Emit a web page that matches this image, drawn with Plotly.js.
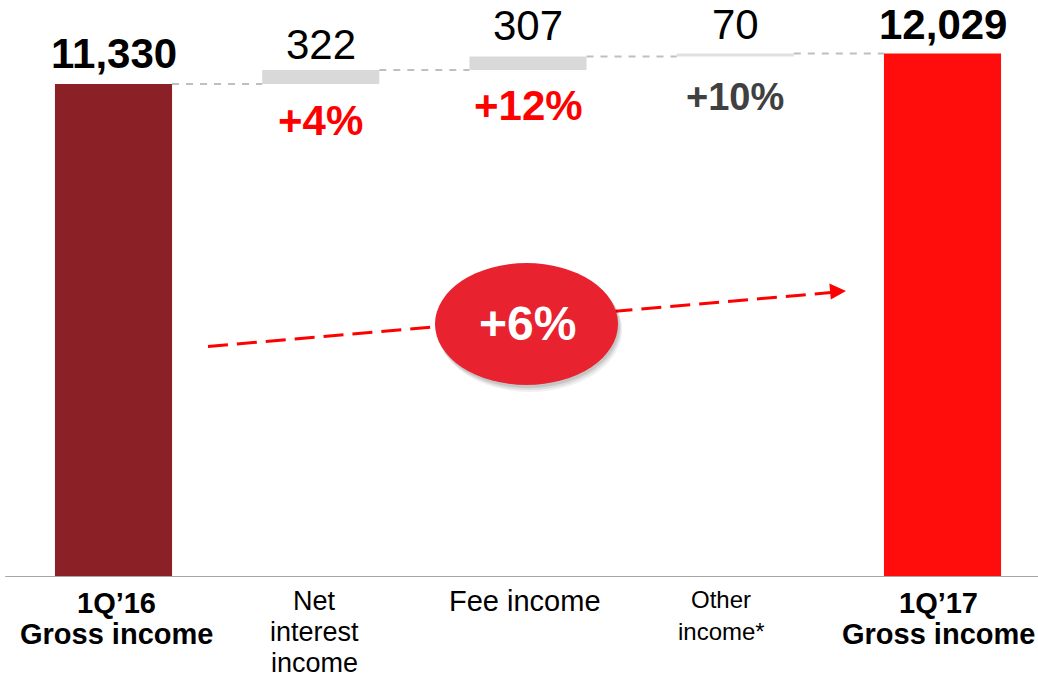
<!DOCTYPE html>
<html>
<head>
<meta charset="utf-8">
<script src="https://cdn.plot.ly/plotly-3.0.1.min.js"></script>
<style>
  html, body { margin: 0; padding: 0; background: #ffffff; }
  #chart { width: 1038px; height: 679px; }
</style>
</head>
<body>
<div id="chart"></div>
<script>
// ---- data ----
const categories = ["1Q\u201916<br>Gross income", "Net<br>interest<br>income", "Fee income", "Other<br>income*", "1Q\u201917<br>Gross income"];
const measures = ["absolute", "relative", "relative", "relative", "total"];
const values = [11330, 322, 307, 70, 12029];
const pctLabels = ["", "+4%", "+12%", "+10%", ""];
const totalGrowth = "+6%";

// ---- styles (kept apart from data) ----
const FONT = "Liberation Sans, Arial, sans-serif";
const barColors = ["#8B2127", "#D9D9D9", "#D9D9D9", "#E0E0E0", "#FF0D0D"];
const valShift = [5, 0, 6, 4, 3];
const pctColors = ["", "#FF0000", "#FF0000", "#404040", ""];
const pctSizes = [0, 42, 42, 38, 0];
const pctShift = [0, -11, -10, -17, 0];
const catBold = [true, false, false, false, true];
const catSize = [29, 27, 29, 24, 29];
const catFirst = [603, 601, 601, 599, 603];   // px centre of first label line
const catPitch = [31, 31, 32, 32, 31];
const catXShift = [3, -6, -3, -14, -4];
const BAR_W = 0.565;

// ---- derive bases from data ----
const bases = [], tops = [];
let running = 0;
values.forEach((v, i) => {
  if (measures[i] === "relative") {
    bases.push(running); running += v; tops.push(running);
  } else {
    bases.push(0); tops.push(v); running = v;
  }
});
const xs = categories.map((_, i) => i);

const trace = {
  type: "bar",
  x: xs,
  y: values,
  base: bases,
  width: BAR_W,
  marker: { color: barColors, line: { width: 0 } },
  hoverinfo: "skip"
};

// connectors
const shapes = [];
for (let i = 0; i < values.length - 1; i++) {
  shapes.push({
    type: "line", xref: "x", yref: "y",
    x0: i + BAR_W / 2, x1: i + 1 - BAR_W / 2,
    y0: tops[i], y1: tops[i],
    line: { color: "#BFBFBF", width: 2, dash: "7px,7px" }
  });
}
// baseline axis
shapes.push({
  type: "line", xref: "paper", yref: "y",
  x0: 0.005, x1: 1, y0: 0, y1: 0,
  line: { color: "#A6A6A6", width: 2 }
});

// pixel -> paper helpers for decorative overlay (plot area 1038 x 577)
const PW = 1038, PH = 577;
const px = v => v / PW;
const py = v => (PH - v) / PH;

// dashed growth arrow
shapes.push({
  type: "line", xref: "paper", yref: "paper",
  x0: px(208), y0: py(346.5), x1: px(831), y1: py(292.5),
  line: { color: "#FF0000", width: 3, dash: "20px,9px" }
});
shapes.push({
  type: "path", xref: "paper", yref: "paper",
  path: `M ${px(846)} ${py(291)} L ${px(829.4)} ${py(283.6)} L ${px(830.8)} ${py(299.6)} Z`,
  fillcolor: "#FF0000", line: { width: 0 }
});
// ellipse shadow layers
[[7, 0.06], [5, 0.08], [3, 0.10]].forEach(([o, a]) => {
  shapes.push({
    type: "circle", xref: "paper", yref: "paper",
    x0: px(435 + o * 0.4), x1: px(618 + o * 0.6), y0: py(385 + o), y1: py(263 + o * 0.6),
    fillcolor: `rgba(0,0,0,${a})`, line: { width: 0 }
  });
});
shapes.push({
  type: "circle", xref: "paper", yref: "paper",
  x0: px(435), x1: px(618), y0: py(385), y1: py(263),
  fillcolor: "#E8232F", line: { width: 0 }
});

// annotations
const annotations = [];
values.forEach((v, i) => {
  const isTotal = measures[i] !== "relative";
  const txt = v.toLocaleString("en-US");
  annotations.push({
    x: i, y: tops[i], xref: "x", yref: "y",
    text: isTotal ? `<b>${txt}</b>` : txt,
    showarrow: false, yanchor: "bottom", xanchor: "center",
    yshift: valShift[i],
    font: { family: FONT, size: 42, color: "#000000" }
  });
  if (pctLabels[i]) {
    annotations.push({
      x: i, y: bases[i], xref: "x", yref: "y",
      text: `<b>${pctLabels[i]}</b>`,
      showarrow: false, yanchor: "top", xanchor: "center",
      yshift: pctShift[i],
      font: { family: FONT, size: pctSizes[i], color: pctColors[i] }
    });
  }
});
annotations.push({
  x: px(527), y: py(324), xref: "paper", yref: "paper",
  text: `<b>${totalGrowth}</b>`, showarrow: false,
  xanchor: "center", yanchor: "middle",
  font: { family: FONT, size: 48, color: "#FFFFFF" }
});

// category labels, one annotation per line for tight line spacing
categories.forEach((c, i) => {
  c.split("<br>").forEach((line, k) => {
    annotations.push({
      x: i, y: 0, xref: "x", yref: "y",
      text: catBold[i] ? `<b>${line}</b>` : line,
      showarrow: false, xanchor: "center", yanchor: "middle",
      xshift: catXShift[i],
      yshift: PH - (catFirst[i] + k * catPitch[i]),
      font: { family: FONT, size: catSize[i], color: "#000000" }
    });
  });
});

const yTop = PH / 0.04352;

const layout = {
  width: 1038, height: 679,
  margin: { l: 0, r: 0, t: 0, b: 102, pad: 0 },
  paper_bgcolor: "#FFFFFF", plot_bgcolor: "#FFFFFF",
  showlegend: false,
  font: { family: FONT, color: "#000000" },
  xaxis: {
    range: [-113.5 / 207.25, (1038 - 113.5) / 207.25],
    tickvals: xs, showticklabels: false,
    showgrid: false, zeroline: false, showline: false,
    ticks: "", fixedrange: true
  },
  yaxis: {
    range: [0, yTop], visible: false, showgrid: false, zeroline: false, fixedrange: true
  },
  shapes: shapes,
  annotations: annotations
};

Plotly.newPlot("chart", [trace], layout, { displayModeBar: false, staticPlot: true });
</script>
</body>
</html>
